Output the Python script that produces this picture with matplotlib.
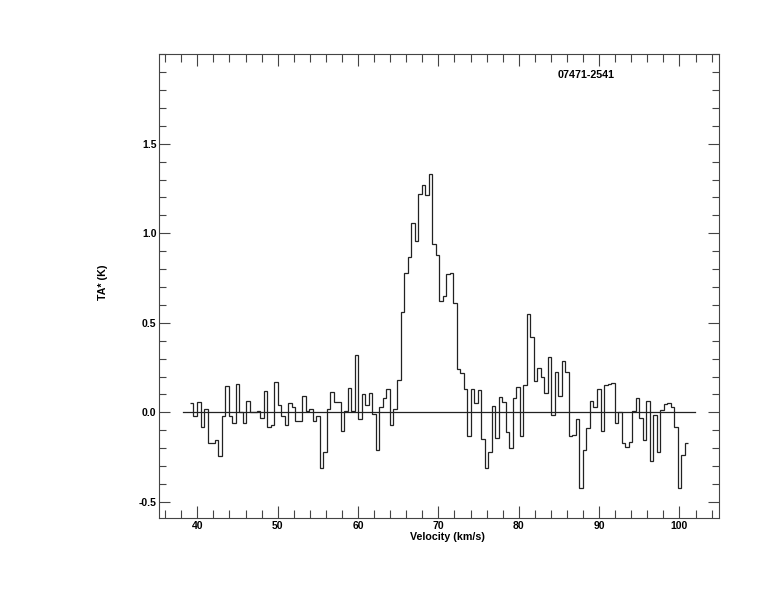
import numpy as np
import matplotlib
matplotlib.use("Agg")
from matplotlib import pyplot as plt
from matplotlib.ticker import MultipleLocator

# spectrum of 07471-2541, antenna temperature per velocity channel
source_name = "07471-2541"
v_start = 39.09      # left edge of first channel (km/s)
dv = 0.4366          # channel width (km/s)
baseline_range = [38.2, 101.9]

ta = [
    0.05, -0.02, 0.06, -0.08, 0.02, -0.17, -0.17, -0.155, -0.245, -0.02,
    0.145, -0.02, -0.06, 0.16, 0.0, -0.06, 0.065, 0.0, 0.0, 0.01,
    -0.03, 0.12, -0.08, -0.07, 0.17, 0.04, -0.02, -0.07, 0.05, 0.03,
    -0.05, -0.05, 0.09, 0.01, 0.02, -0.05, -0.02, -0.31, -0.22, 0.02,
    0.115, 0.06, 0.06, -0.105, 0.005, 0.135, 0.005, 0.32, -0.04, 0.10,
    0.04, 0.11, -0.01, -0.21, 0.03, 0.08, 0.13, -0.07, 0.02, 0.18,
    0.56, 0.78, 0.865, 1.06, 0.955, 1.22, 1.27, 1.215, 1.33, 0.94,
    0.88, 0.62, 0.65, 0.775, 0.78, 0.61, 0.24, 0.22, 0.13, -0.13,
    0.13, 0.05, 0.125, -0.15, -0.31, -0.22, 0.035, -0.145, 0.085, 0.055,
    -0.11, -0.2, 0.08, 0.14, -0.13, 0.15, 0.55, 0.42, 0.175, 0.245,
    0.195, 0.11, 0.31, -0.015, 0.225, 0.09, 0.285, 0.225, -0.13, -0.125,
    -0.04, -0.42, -0.21, -0.09, 0.065, 0.03, 0.13, -0.105, 0.15, 0.16,
    0.165, -0.06, 0.0, -0.17, -0.195, -0.165, 0.005, 0.08, -0.03, -0.155,
    0.065, -0.27, -0.015, -0.22, 0.015, 0.045, 0.05, 0.03, -0.08, -0.42,
    -0.24, -0.17,
]

x_ticks = [40, 50, 60, 70, 80, 90, 100]
y_ticks = [-0.5, 0.0, 0.5, 1.0, 1.5]
y_ticklabels = ["-0.5", "0.0", "0.5", "1.0", "1.5"]

plt.rcParams['font.family'] = ['Liberation Sans', 'DejaVu Sans']
plt.rcParams['font.weight'] = 'bold'

edges = v_start + dv * np.arange(len(ta) + 1)

fig = plt.figure(figsize=(7.74, 6.12), dpi=100)
ax = fig.add_axes([0.2058, 0.1531, 0.7235, 0.7582])

ax.stairs(ta, edges, baseline=None, color='#222222', lw=0.9)
ax.plot(baseline_range, [0, 0], color='#222222', lw=0.9)

ax.set_xlim(35.27, 104.95)
ax.set_ylim(-0.592, 2.0)

ax.set_xticks(x_ticks)
ax.xaxis.set_minor_locator(MultipleLocator(2))
ax.set_yticks(y_ticks)
ax.set_yticklabels(y_ticklabels)
ax.yaxis.set_minor_locator(MultipleLocator(0.1))

ax.tick_params(which='both', direction='in', top=True, right=True,
               labelsize=7.5, pad=2, color='#444444', width=0.8)
ax.tick_params(axis='x', which='major', length=8.5)
ax.tick_params(axis='x', which='minor', length=6)
ax.tick_params(axis='y', which='major', length=8)
ax.tick_params(axis='y', which='minor', length=5)
for lab in ax.get_xticklabels() + ax.get_yticklabels():
    lab.set_fontweight('bold')
for sp in ax.spines.values():
    sp.set_linewidth(0.8)
    sp.set_color('#444444')

ax.text(84.86, 1.884, source_name, fontsize=7.7, fontweight='bold', va='center', ha='left')

fig.text(447 / 774, 1 - 537 / 612, "Velocity (km/s)", fontsize=7.7, fontweight='bold',
         ha='center', va='center')
fig.text(103 / 774, 1 - 282 / 612, "TA* (K)", fontsize=7.7, fontweight='bold',
         ha='center', va='center', rotation=90)

plt.savefig("out.png", dpi=100)
plt.close()
